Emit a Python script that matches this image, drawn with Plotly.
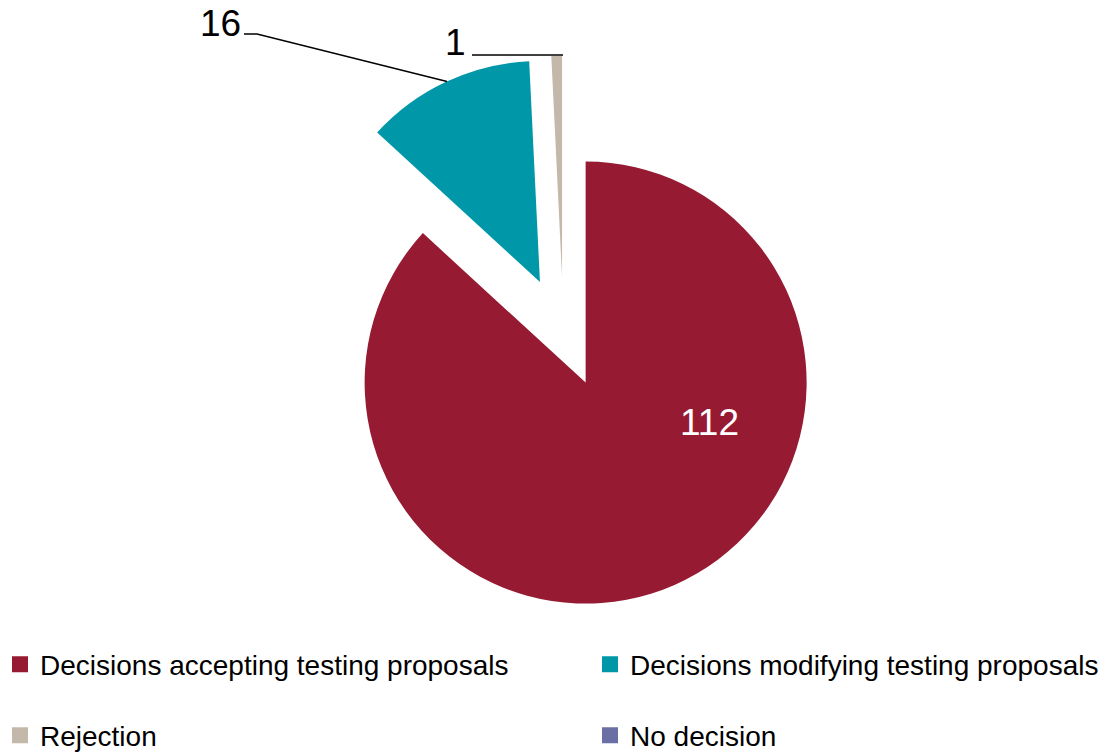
import plotly.graph_objects as go

# ---------------- data ----------------
categories = [
    "Decisions accepting testing proposals",
    "Decisions modifying testing proposals",
    "Rejection",
    "No decision",
]
values = [112, 16, 1, 0]
colors = ["#961B32", "#0098A9", "#C4B8AA", "#6A70A3"]

# ---------------- layout constants ----------------
W, H = 1107, 754
FONT = "Liberation Sans, Arial, sans-serif"

pie_cx, pie_cy, pie_r, pull = 563.4, 332.0, 221.0, 0.25
half = pie_r * (1 + pull)
dom_x = [(pie_cx - half) / W, (pie_cx + half) / W]
dom_y = [1 - (pie_cy + half) / H, 1 - (pie_cy - half) / H]

legend_pos = [(0, 664.5), (590, 664.5), (0, 735.5), (590, 735.5)]
label_pos = {0: (709, 422, "white"), 1: (220.5, 23, "black"), 2: (455.5, 42, "black")}
leaders = {1: [(244, 34), (257, 34), (447, 81.5)], 2: [(472, 55), (563, 55)]}

fig = go.Figure()
fig.add_trace(go.Pie(
    labels=categories, values=values,
    marker=dict(colors=colors, line=dict(width=0)),
    sort=False, direction="clockwise", rotation=0,
    pull=[pull] * len(values),
    textinfo="none", showlegend=False,
    domain=dict(x=dom_x, y=dom_y),
    hovertemplate="%{label}: %{value}<extra></extra>",
))

legend_layouts = {}
for i, (lab, col) in enumerate(zip(categories, colors)):
    lid = "legend" if i == 0 else f"legend{i + 1}"
    fig.add_trace(go.Scatter(
        x=[None], y=[None], mode="markers", name=lab,
        marker=dict(symbol="square", size=16, color=col),
        legend=lid, showlegend=True, hoverinfo="skip",
    ))
    px, py = legend_pos[i]
    legend_layouts[lid] = dict(
        x=px / W, y=1 - py / H, xanchor="left", yanchor="middle",
        orientation="h", font=dict(family=FONT, size=28, color="#000000"),
        bgcolor="rgba(0,0,0,0)", borderwidth=0,
    )
fig.update_layout(**legend_layouts)

for i, (px, py, c) in label_pos.items():
    fig.add_annotation(
        x=px / W, y=1 - py / H, xref="paper", yref="paper",
        text=str(values[i]), showarrow=False, xanchor="center", yanchor="middle",
        font=dict(family=FONT, size=37, color=c),
    )

for i, pts in leaders.items():
    path = "M " + " L ".join(f"{x / W},{1 - y / H}" for x, y in pts)
    fig.add_shape(type="path", path=path, xref="paper", yref="paper",
                  line=dict(color="black", width=1.5))

fig.update_layout(
    width=W, height=H,
    margin=dict(l=0, r=0, t=0, b=0, autoexpand=False),
    paper_bgcolor="white", plot_bgcolor="white",
    xaxis=dict(visible=False), yaxis=dict(visible=False),
    font=dict(family=FONT),
)

fig.write_html("out.html")
